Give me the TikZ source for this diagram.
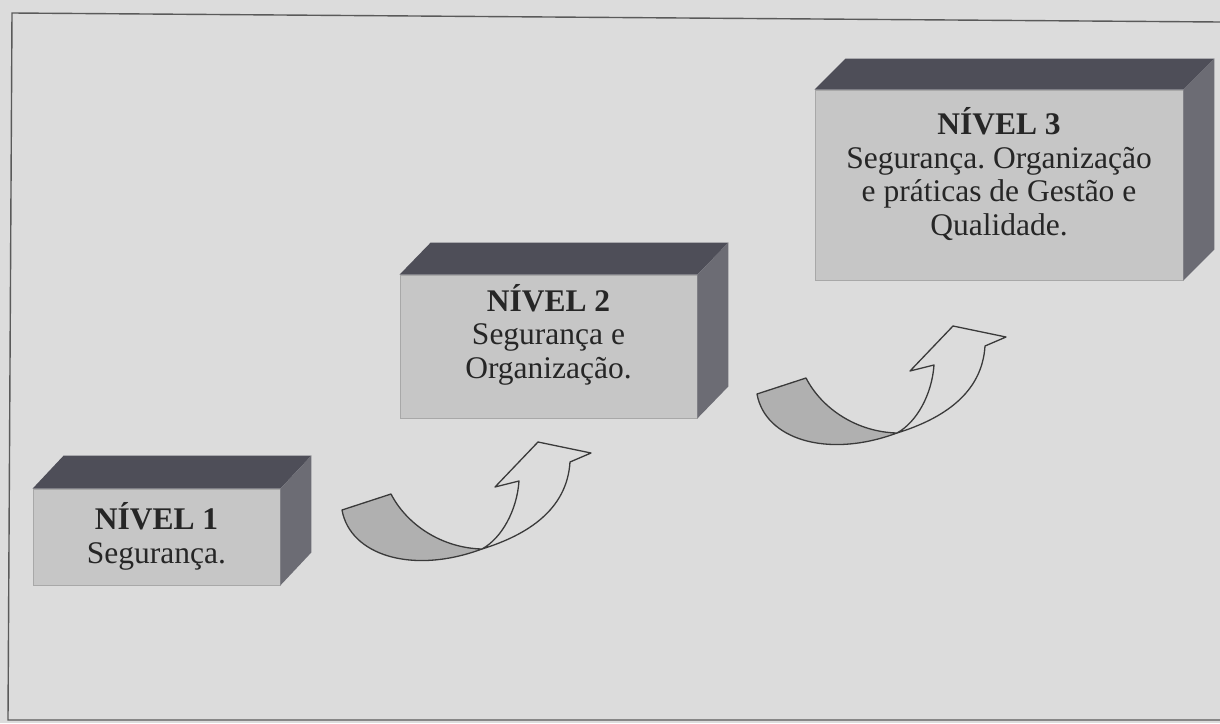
\documentclass[tikz,border=0pt]{standalone}
\usepackage{fontspec}
\setmainfont{Liberation Serif}
\usetikzlibrary{calc}
\frenchspacing
\definecolor{bg}{HTML}{DCDCDC}
\definecolor{frontc}{HTML}{C6C6C6}
\definecolor{topc}{HTML}{4E4E58}
\definecolor{sidec}{HTML}{6C6C74}
\definecolor{ink}{HTML}{262626}
\definecolor{bandc}{HTML}{B0B0B0}
\definecolor{linec}{HTML}{3A3A3A}
\definecolor{framec}{HTML}{5A5A5A}
\tikzset{
  frontface/.style={draw=frontc!85!black, fill=frontc, line width=0.8pt, inner sep=0pt, rectangle},
  topface/.style={fill=topc},
  sideface/.style={fill=sidec},
  lvltext/.style={text=ink, align=center, font=\fontsize{31.5}{33.5}\selectfont, anchor=base, inner sep=0pt},
  ribbon/.style={draw=linec, line width=1.3pt, line join=round},
  pics/uparrow/.style={code={
    \path[ribbon, fill=bandc] (0,0) -- (49,-16) .. controls (65,15) and (100,38) .. (140,39)
       .. controls (70,65) and (8,45) .. (0,0) -- cycle;
    \path[ribbon, fill=bg] (140,39) .. controls (185,25) and (225,0) .. (228,-48) -- (249,-57)
       -- (196,-68) -- (153,-23) -- (177,-29) .. controls (175,0) and (160,28) .. (140,39) -- cycle;
  }}
}
\begin{document}
\begin{tikzpicture}[x=1pt,y=-1pt]
\useasboundingbox (0,0) rectangle (1220,723);
\fill[bg] (0,0) rectangle (1220,723);
\draw[framec, line width=1.4pt] (1220,22) -- (12,13) -- (8,720) -- (1220,720);

% box 1
\node[frontface, minimum width=247pt, minimum height=96pt] (b1) at (156.5,537) {};
\fill[topface] (b1.north west) -- ++(31,-33) -- ($(b1.north east)+(31,-33)$) -- (b1.north east) -- cycle;
\fill[sideface] (b1.north east) -- ++(31,-33) -- ($(b1.south east)+(31,-33)$) -- (b1.south east) -- cycle;
\node[lvltext] (t1) at (156.5,563) {\textbf{NÍVEL 1}\\Segurança.};

% box 2
\node[frontface, minimum width=297pt, minimum height=143pt] (b2) at (548.5,346.5) {};
\fill[topface] (b2.north west) -- ++(31,-32) -- ($(b2.north east)+(31,-32)$) -- (b2.north east) -- cycle;
\fill[sideface] (b2.north east) -- ++(31,-32) -- ($(b2.south east)+(31,-32)$) -- (b2.south east) -- cycle;
\node[lvltext] (t2) at (548.5,378) {\textbf{NÍVEL 2}\\Segurança e\\Organização.};

% box 3
\node[frontface, minimum width=368pt, minimum height=190pt] (b3) at (999,185) {};
\fill[topface] (b3.north west) -- ++(31,-31) -- ($(b3.north east)+(31,-31)$) -- (b3.north east) -- cycle;
\fill[sideface] (b3.north east) -- ++(31,-31) -- ($(b3.south east)+(31,-31)$) -- (b3.south east) -- cycle;
\node[lvltext] (t3) at (999,235) {\textbf{NÍVEL 3}\\Segurança. Organização\\e práticas de Gestão e\\Qualidade.};

% arrows
\pic (a1) at (342,510) {uparrow};
\pic (a2) at (757,394) {uparrow};
\end{tikzpicture}
\end{document}
